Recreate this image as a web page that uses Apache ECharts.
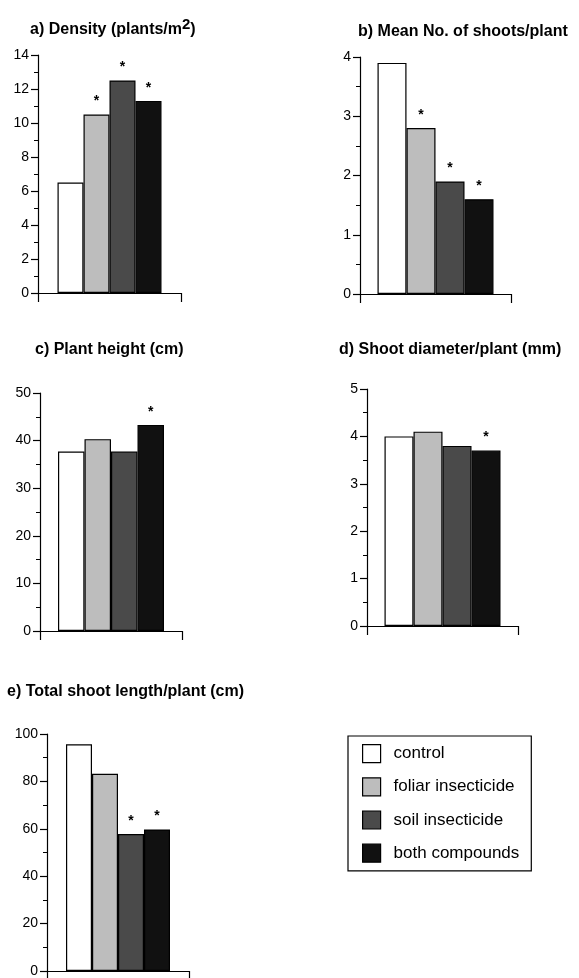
<!DOCTYPE html>
<html>
<head>
<meta charset="utf-8">
<script src="https://cdn.jsdelivr.net/npm/echarts@6/dist/echarts.min.js"></script>
<style>
  html, body { margin: 0; padding: 0; background: #fff; }
  #main { width: 579px; height: 978px; }
</style>
</head>
<body>
<div id="main"></div>
<script>
var treatments = ['control', 'foliar insecticide', 'soil insecticide', 'both compounds'];
var barColors = ['#ffffff', '#bdbdbd', '#4a4a4a', '#111111'];

// values per panel, one per treatment
var density = [6.5, 10.5, 12.5, 11.3];
var densitySig = [false, true, true, true];
var shoots = [3.9, 2.8, 1.9, 1.6];
var shootsSig = [false, true, true, true];
var height = [37.7, 40.3, 37.7, 43.3];
var heightSig = [false, false, false, true];
var diameter = [4.0, 4.1, 3.8, 3.7];
var diameterSig = [false, false, false, true];
var totalLength = [95.7, 83.2, 57.8, 59.7];
var totalLengthSig = [false, false, true, true];

var yMax = [14, 4, 50, 5, 100];
var yInterval = [2, 1, 10, 1, 20];

var panels = [
    {vals: density, sig: densitySig, grid: {left: 38, top: 55, width: 143, height: 238}, bw: 26},
    {vals: shoots, sig: shootsSig, grid: {left: 360, top: 57, width: 151, height: 237}, bw: 29},
    {vals: height, sig: heightSig, grid: {left: 40, top: 393, width: 142, height: 238}, bw: 26.5},
    {vals: diameter, sig: diameterSig, grid: {left: 367, top: 389, width: 151, height: 237}, bw: 29},
    {vals: totalLength, sig: totalLengthSig, grid: {left: 47, top: 734, width: 142, height: 238}, bw: 26}
];

var font = '"Liberation Sans", Arial, Helvetica, sans-serif';

var grids = [], xAxes = [], yAxes = [], series = [];
panels.forEach(function (p, k) {
    grids.push(p.grid);
    xAxes.push({
        type: 'category',
        gridIndex: k,
        data: [''],
        axisLine: {lineStyle: {color: '#000', width: 1.2}},
        axisTick: {show: true, length: 9, lineStyle: {color: '#000', width: 1.2}},
        axisLabel: {show: false}
    });
    yAxes.push({
        type: 'value',
        gridIndex: k,
        min: 0,
        max: yMax[k],
        interval: yInterval[k],
        splitLine: {show: false},
        axisLine: {show: true, lineStyle: {color: '#000', width: 1.2}},
        axisTick: {show: true, length: 7, lineStyle: {color: '#000', width: 1.2}},
        minorTick: {show: true, splitNumber: 2, length: 4, lineStyle: {color: '#000', width: 1}},
        axisLabel: {color: '#000', fontSize: 14, fontFamily: font, margin: 9}
    });
    treatments.forEach(function (name, i) {
        series.push({
            name: name,
            type: 'bar',
            xAxisIndex: k,
            yAxisIndex: k,
            barWidth: p.bw,
            barGap: '0%',
            itemStyle: {color: barColors[i], borderColor: '#000', borderWidth: 1.2},
            label: {
                show: false, position: 'top', distance: 6, formatter: '*',
                color: '#000', fontSize: 14, fontWeight: 'bold', fontFamily: font
            },
            data: [{value: p.vals[i], label: {show: p.sig[i]}}]
        });
    });
});

var titleStyle = {color: '#000', fontSize: 16, fontWeight: 'bold', fontFamily: font};

var myChart = echarts.init(document.getElementById('main'));
var option = {
    animation: false,
    backgroundColor: '#fff',
    title: [
        {
            text: 'a) Density (plants/m{sup|2})', left: 30, top: 17, padding: 0,
            textStyle: {
                color: '#000', fontSize: 16, fontWeight: 'bold', fontFamily: font,
                rich: {sup: {fontSize: 15, fontWeight: 'bold', fontFamily: font, color: '#000', verticalAlign: 'bottom', padding: [0, 0, 10, 0]}}
            }
        },
        {text: 'b) Mean No. of shoots/plant', left: 358, top: 24, padding: 0, textStyle: titleStyle},
        {text: 'c) Plant height (cm)', left: 35, top: 342, padding: 0, textStyle: titleStyle},
        {text: 'd) Shoot diameter/plant (mm)', left: 339, top: 342, padding: 0, textStyle: titleStyle},
        {text: 'e) Total shoot length/plant (cm)', left: 7, top: 684, padding: 0, textStyle: titleStyle}
    ],
    legend: {
        data: treatments,
        orient: 'vertical',
        left: 348,
        top: 736,
        padding: [8, 12, 8, 14],
        itemWidth: 18,
        itemHeight: 18,
        itemGap: 14,
        icon: 'rect',
        borderColor: '#000',
        borderWidth: 1.2,
        selectedMode: false,
        itemStyle: {borderColor: '#000', borderWidth: 1.2},
        textStyle: {color: '#000', fontSize: 17, fontFamily: font, padding: [0, 0, 0, 8]}
    },
    grid: grids,
    xAxis: xAxes,
    yAxis: yAxes,
    series: series
};
myChart.setOption(option);
</script>
</body>
</html>
